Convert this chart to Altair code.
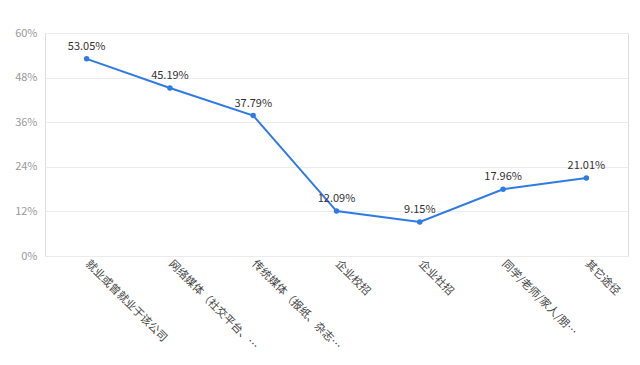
import altair as alt
import pandas as pd

categories = ["就业或曾就业于该公司", "网络媒体（社交平台、…", "传统媒体（报纸、杂志…",
              "企业校招", "企业社招", "同学/老师/家人/朋…", "其它途径"]
values = [53.05, 45.19, 37.79, 12.09, 9.15, 17.96, 21.01]
y_ticks = [0, 12, 24, 36, 48, 60]

df = pd.DataFrame({"cat": categories, "val": values,
                   "label": [f"{v:.2f}%" for v in values]})

font = "Noto Sans CJK SC"
x = alt.X("cat:N", sort=categories, title=None,
          scale=alt.Scale(paddingInner=0, paddingOuter=0.5),
          axis=alt.Axis(labelAngle=45, labelAlign="left", labelBaseline="middle",
                        labelColor="#444", labelFontSize=11, labelFont=font,
                        ticks=False, domain=False, labelPadding=6, labelLimit=200))
y = alt.Y("val:Q", title=None, scale=alt.Scale(domain=[0, 60], nice=False),
          axis=alt.Axis(values=y_ticks, labelExpr="datum.value + '%'",
                        labelColor="#999", labelFontSize=11, labelFont=font,
                        ticks=False, domain=False, labelPadding=8,
                        gridColor="#ebebeb", gridWidth=1))

base = alt.Chart(df).encode(x=x, y=y)
line = base.mark_line(color="#2f7be6", strokeWidth=2)
pts = base.mark_point(color="#2f7be6", filled=True, size=30, opacity=1)
txt = base.mark_text(dy=-12, fontSize=11, color="#333", font=font).encode(text="label:N")

chart = (line + pts + txt).properties(
    width=583, height=223,
    autosize=alt.AutoSizeParams(type="none"),
    padding={"left": 37, "top": 25, "right": 4, "bottom": 101},
).configure_view(stroke=None).configure(background="white")

chart.save("out.html", embed_options={"renderer": "svg", "actions": False})
